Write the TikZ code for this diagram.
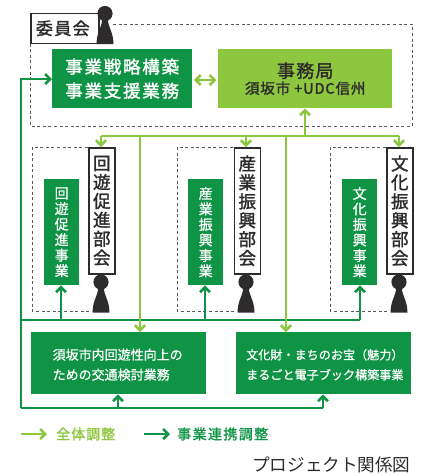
\documentclass[tikz,border=0pt]{standalone}
\usepackage{fontspec}
\setmainfont{Noto Sans CJK JP}
\newfontfamily\medf[FakeBold=0.8]{Noto Sans CJK JP}
\newfontfamily\semf[FakeBold=1.6]{Noto Sans CJK JP}
\usetikzlibrary{arrows.meta}
\definecolor{dg}{HTML}{0F9344}
\definecolor{lg}{HTML}{8DC63F}
\definecolor{ink}{HTML}{2E2B2C}
\newcommand{\fs}[2]{\fontsize{#1}{#2}\selectfont}
\newcommand{\personfig}[3]{% x, head y, name
  \fill[ink] (#1,#2) circle (7.6);
  \fill[ink] (#1-8.5,#2+30.5) .. controls (#1-8.3,#2+18) and (#1-3,#2+14) .. (#1-3,#2+6)
     -- (#1+3,#2+6) .. controls (#1+3,#2+14) and (#1+8.3,#2+18) .. (#1+8.5,#2+30.5) -- cycle;
  \coordinate (#3) at (#1,#2);
}
\tikzset{
  x=1pt,y=-1pt,
  dgbox/.style={fill=dg,text=white,inner sep=0,anchor=north west},
  lgbox/.style={fill=lg,text=ink,inner sep=0,anchor=north west},
  frameBox/.style={draw=ink,line width=1.6pt,fill=white,text=ink,inner sep=0,anchor=north west,align=center},
  dline/.style={draw=dg,line width=2.5pt},
  lline/.style={draw=lg,line width=2.5pt},
  endtip/.style={-{Straight Barb[length=5pt,width=10pt,line width=2.6pt]}},
  twotip/.style={{Straight Barb[length=5pt,width=10pt,line width=2.6pt]}-{Straight Barb[length=5pt,width=10pt,line width=2.6pt]}},
  dashline/.style={draw=black!65,line width=0.8pt,dash pattern=on 3pt off 2.6pt},
  tateBig/.style={font=\semf\fontsize{17.5}{18.9}\selectfont,minimum width=26pt,minimum height=126pt},
  tateSmall/.style={font=\medf\fontsize{14}{15.5}\selectfont,align=center,minimum width=35pt,minimum height=106pt},
}
\begin{document}
\begin{tikzpicture}
\useasboundingbox (0,0) rectangle (427,475);
% dashed areas
\draw[dashline] (113,24) -- (412,24) -- (412,126) -- (30,126) -- (30,42);
\draw[dashline] (88,147) -- (32,147) -- (32,311) -- (92,311);
\draw[dashline] (233,147) -- (177,147) -- (177,311) -- (237,311);
\draw[dashline] (386,147) -- (330,147) -- (330,311) -- (390,311);
% top boxes
\node[frameBox,minimum width=68pt,minimum height=30pt,text width=68pt] (iin) at (30,12.5) {\hspace*{-4pt}\semf\fs{17}{17}\addfontfeature{LetterSpace=8}委員会};
\personfig{105}{13.5}{p0}
\node[dgbox,minimum width=140pt,minimum height=59pt,align=center,font=\semf\fontsize{17.5}{24}\selectfont] (senryaku) at (52,49) {\addfontfeature{LetterSpace=10}事業戦略構築\\\addfontfeature{LetterSpace=10}事業支援業務};
\node[lgbox,minimum width=174pt,minimum height=59pt,align=center] (jimu) at (218,49) {\semf\fs{18}{22}\addfontfeature{LetterSpace=7}事務局\\[1.5pt]\semf\fs{14.5}{17}\addfontfeature{LetterSpace=6}須坂市 +UDC信州};
% vertical frames
\node[frameBox,tateBig] (kaiF) at (88,147) {回\\遊\\促\\進\\部\\会};
\node[frameBox,tateBig] (sanF) at (233.5,147) {産\\業\\振\\興\\部\\会};
\node[frameBox,tateBig] (bunF) at (386,147) {文\\化\\振\\興\\部\\会};
\personfig{101}{282}{p1}
\personfig{246}{282}{p2}
\personfig{399}{282}{p3}
% vertical green
\node[dgbox,tateSmall] (kaiG) at (44,179) {回\\遊\\促\\進\\事\\業};
\node[dgbox,tateSmall] (sanG) at (188,179) {産\\業\\振\\興\\事\\業};
\node[dgbox,tateSmall] (bunG) at (342,179) {文\\化\\振\\興\\事\\業};
% bottom boxes
\node[dgbox,minimum width=175pt,minimum height=62pt] (kotsu) at (31,332) {\begin{minipage}{132pt}\vspace*{3pt}\medf\fs{13}{20}須坂市内回遊性向上の\\ための交通検討業務\end{minipage}};
\node[dgbox,minimum width=175pt,minimum height=62pt] (ebook) at (236,332) {\begin{minipage}{155pt}\vspace*{3pt}\medf\fs{12.1}{20}文化財・まちのお宝（魅力）\\まるごと電子ブック構築事業\end{minipage}};
% coordinates
\coordinate (busJ) at (305,136);
\coordinate (busK) at (101,136);
\coordinate (busS) at (246,136);
\coordinate (busB) at (399,136);
\coordinate (busT) at (140,136);
\coordinate (busE) at (286,136);
\coordinate (loopTL) at (21,79);
\coordinate (loopBL) at (21,408);
\coordinate (midL) at (21,320);
\coordinate (midK) at (61,320);
\coordinate (midS) at (205,320);
\coordinate (midB) at (360,320);
\coordinate (botK) at (118,408);
\coordinate (botE) at (323,408);
\coordinate (dblY) at (0,80);
% dark connectors
\draw[dline] (midL) -- (midB);
\draw[dline,endtip] (midK) -- (midK |- kaiG.south);
\draw[dline,endtip] (midS) -- (midS |- sanG.south);
\draw[dline,endtip] (midB) -- (midB |- bunG.south);
\draw[dline,endtip] (loopBL) -- (loopTL) -- (senryaku.west |- loopTL);
\draw[dline] (loopBL) -- (botE);
\draw[dline,endtip] (botK) -- (botK |- kotsu.south);
\draw[dline,endtip] (botE) -- (botE |- ebook.south);
% light connectors
\draw[lline,twotip] ([xshift=1.5pt]senryaku.east |- dblY) -- ([xshift=-1.5pt]jimu.west |- dblY);
\draw[lline,endtip] (busJ) -- (busJ |- jimu.south);
\draw[lline] (busK) -- (busB);
\draw[lline,endtip] (busK) -- (busK |- kaiF.north);
\draw[lline,endtip] (busS) -- (busS |- sanF.north);
\draw[lline,endtip] (busB) -- (busB |- bunF.north);
\draw[lline,endtip] (busT) -- (busT |- kotsu.north);
\draw[lline,endtip] (busE) -- (busE |- ebook.north);
% legend
\coordinate (lgA) at (21,434);
\coordinate (dgA) at (144,434);
\node[text=lg,anchor=west,inner sep=0] (lgT) at (56,434) {\semf\fs{14}{14}\addfontfeature{LetterSpace=7}全体調整};
\node[text=dg,anchor=west,inner sep=0] (dgT) at (177,434) {\semf\fs{14}{14}\addfontfeature{LetterSpace=10}事業連携調整};
\draw[lline,endtip] (lgA) -- ([xshift=-9pt]lgT.west);
\draw[dline,endtip] (dgA) -- ([xshift=-7pt]dgT.west);
\node[text=ink,anchor=west,inner sep=0] (cap) at (252,465) {\fs{17.6}{17.6}プロジェクト関係図};
\end{tikzpicture}
\end{document}
